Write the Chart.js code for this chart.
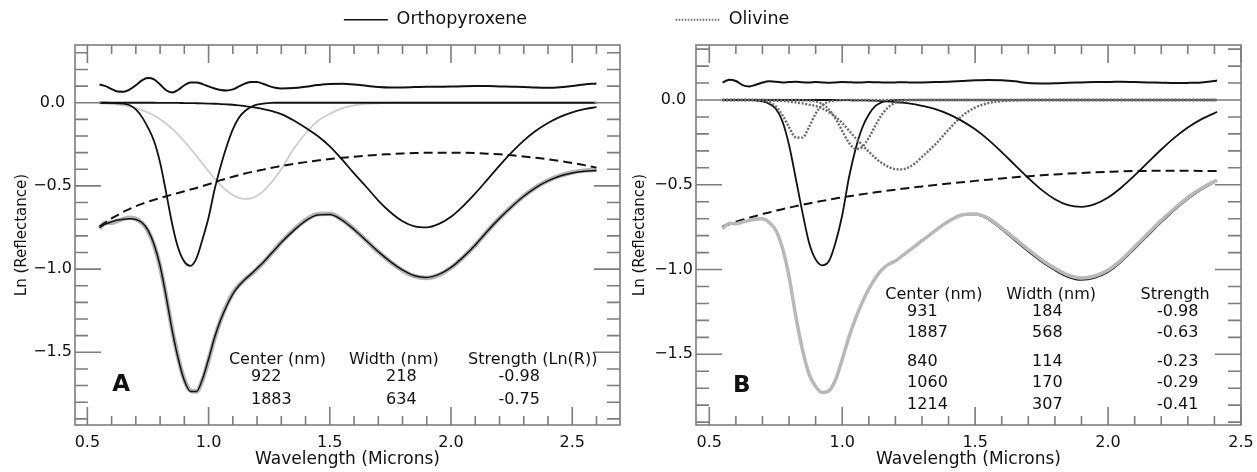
<!DOCTYPE html>
<html><head><meta charset="utf-8">
<script src="https://cdn.jsdelivr.net/npm/chart.js@4.4.1/dist/chart.umd.min.js"></script>
<style>
html,body{margin:0;padding:0;background:#fff;width:1257px;height:472px;overflow:hidden;}
canvas{position:absolute;top:0;}
#cA{left:0;} #cB{left:630px;} #lg1{left:330px;} #lg2{left:665px;}
</style></head><body>
<canvas id="cA" width="630" height="472"></canvas>
<canvas id="cB" width="627" height="472"></canvas>
<canvas id="lg1" width="211" height="60"></canvas>
<canvas id="lg2" width="135" height="60"></canvas>
<script>
// ---------- Panel A data (wavelength in microns, Ln reflectance) ----------
const xA = [0.55,0.575,0.6,0.625,0.65,0.675,0.7,0.725,0.75,0.775,0.8,0.825,0.85,0.875,0.9,0.925,0.95,0.975,1.0,1.025,1.05,1.075,1.1,1.125,1.15,1.175,1.2,1.225,1.25,1.275,1.3,1.35,1.4,1.45,1.5,1.55,1.6,1.65,1.7,1.75,1.8,1.85,1.9,1.95,2.0,2.05,2.1,2.15,2.2,2.25,2.3,2.35,2.4,2.45,2.5,2.55,2.6];
const residA = [0.110,0.100,0.082,0.067,0.066,0.080,0.105,0.135,0.148,0.140,0.110,0.075,0.062,0.078,0.105,0.122,0.122,0.112,0.098,0.086,0.077,0.074,0.080,0.098,0.115,0.125,0.124,0.114,0.100,0.090,0.086,0.088,0.096,0.106,0.113,0.114,0.110,0.102,0.094,0.091,0.092,0.094,0.096,0.096,0.097,0.099,0.100,0.100,0.098,0.096,0.094,0.091,0.090,0.093,0.100,0.110,0.116];
const opx1A = [0,0,-0.001,-0.003,-0.006,-0.015,-0.04,-0.085,-0.15,-0.23,-0.36,-0.54,-0.73,-0.875,-0.955,-0.98,-0.935,-0.82,-0.69,-0.52,-0.38,-0.26,-0.16,-0.09,-0.05,-0.026,-0.012,-0.005,-0.002,0,0,0,0,0,0,0,0,0,0,0,0,0,0,0,0,0,0,0,0,0,0,0,0,0,0,0,0];
const opx2A = [0,0,0,0,0,0,0,0,0,0,-0.001,-0.001,-0.001,-0.001,-0.002,-0.002,-0.003,-0.004,-0.005,-0.006,-0.008,-0.01,-0.012,-0.016,-0.02,-0.025,-0.031,-0.038,-0.046,-0.056,-0.068,-0.105,-0.15,-0.2,-0.262,-0.34,-0.425,-0.505,-0.588,-0.658,-0.712,-0.743,-0.749,-0.728,-0.685,-0.621,-0.545,-0.462,-0.378,-0.299,-0.228,-0.169,-0.122,-0.085,-0.058,-0.039,-0.026];
const thirdA = [-0.004,-0.005,-0.008,-0.011,-0.016,-0.023,-0.032,-0.044,-0.059,-0.077,-0.099,-0.126,-0.157,-0.193,-0.232,-0.275,-0.32,-0.366,-0.412,-0.456,-0.495,-0.529,-0.554,-0.572,-0.578,-0.575,-0.559,-0.533,-0.494,-0.449,-0.398,-0.28,-0.185,-0.11,-0.067,-0.034,-0.016,-0.007,-0.003,-0.001,0,0,0,0,0,0,0,0,0,0,0,0,0,0,0,0,0];
const contA = [-0.745,-0.72,-0.695,-0.675,-0.655,-0.638,-0.622,-0.608,-0.595,-0.584,-0.573,-0.562,-0.552,-0.542,-0.532,-0.522,-0.512,-0.501,-0.49,-0.478,-0.465,-0.455,-0.445,-0.435,-0.425,-0.417,-0.41,-0.402,-0.394,-0.387,-0.38,-0.368,-0.357,-0.347,-0.338,-0.331,-0.324,-0.318,-0.313,-0.309,-0.305,-0.302,-0.301,-0.3,-0.3,-0.301,-0.303,-0.306,-0.31,-0.316,-0.323,-0.331,-0.34,-0.35,-0.362,-0.375,-0.39];
const modelA = [-0.75,-0.73,-0.715,-0.705,-0.70,-0.698,-0.702,-0.72,-0.765,-0.85,-0.98,-1.165,-1.37,-1.54,-1.67,-1.735,-1.735,-1.66,-1.54,-1.41,-1.305,-1.22,-1.15,-1.1,-1.062,-1.03,-0.995,-0.96,-0.92,-0.88,-0.84,-0.77,-0.71,-0.675,-0.672,-0.705,-0.762,-0.828,-0.895,-0.955,-1.005,-1.04,-1.05,-1.032,-0.99,-0.928,-0.855,-0.772,-0.695,-0.625,-0.562,-0.51,-0.47,-0.44,-0.422,-0.412,-0.408];
const specA = [-0.755,-0.722,-0.722,-0.71,-0.698,-0.692,-0.698,-0.722,-0.77,-0.855,-0.985,-1.165,-1.365,-1.535,-1.665,-1.73,-1.735,-1.665,-1.545,-1.415,-1.305,-1.215,-1.145,-1.097,-1.062,-1.032,-0.998,-0.962,-0.921,-0.879,-0.838,-0.766,-0.705,-0.67,-0.668,-0.702,-0.76,-0.828,-0.896,-0.957,-1.008,-1.043,-1.053,-1.035,-0.992,-0.93,-0.856,-0.772,-0.694,-0.624,-0.561,-0.508,-0.468,-0.438,-0.419,-0.408,-0.403];

// ---------- Panel B data ----------
const xB = [0.55,0.575,0.6,0.625,0.65,0.675,0.7,0.725,0.75,0.775,0.8,0.825,0.85,0.875,0.9,0.925,0.95,0.975,1.0,1.025,1.05,1.075,1.1,1.125,1.15,1.175,1.2,1.225,1.25,1.275,1.3,1.35,1.4,1.45,1.5,1.55,1.6,1.65,1.7,1.75,1.8,1.85,1.9,1.95,2.0,2.05,2.1,2.15,2.2,2.25,2.3,2.35,2.4,2.41];
const residB = [0.103,0.12,0.112,0.088,0.08,0.09,0.103,0.11,0.108,0.104,0.106,0.108,0.105,0.104,0.106,0.104,0.102,0.104,0.106,0.105,0.103,0.104,0.106,0.105,0.104,0.103,0.104,0.105,0.104,0.103,0.104,0.106,0.108,0.112,0.116,0.118,0.116,0.11,0.1,0.098,0.099,0.102,0.104,0.106,0.106,0.108,0.106,0.104,0.102,0.1,0.101,0.104,0.112,0.115];
const opx1B = [0,0,0,0,-0.001,-0.002,-0.008,-0.022,-0.052,-0.125,-0.265,-0.46,-0.66,-0.84,-0.94,-0.975,-0.95,-0.84,-0.68,-0.46,-0.29,-0.165,-0.085,-0.035,-0.012,-0.004,-0.001,0,0,0,0,0,0,0,0,0,0,0,0,0,0,0,0,0,0,0,0,0,0,0,0,0,0,0];
const opx2B = [0,0,0,0,0,0,0,0,0,0,0,0,0,0,0,0,0,0,-0.001,-0.001,-0.002,-0.002,-0.003,-0.004,-0.006,-0.009,-0.012,-0.016,-0.02,-0.026,-0.034,-0.054,-0.083,-0.123,-0.173,-0.235,-0.307,-0.384,-0.46,-0.53,-0.585,-0.62,-0.63,-0.614,-0.575,-0.516,-0.445,-0.368,-0.292,-0.222,-0.162,-0.114,-0.077,-0.07];
const ol1B = [0,0,0,0,0,0,-0.003,-0.012,-0.038,-0.089,-0.16,-0.22,-0.222,-0.16,-0.08,-0.03,-0.01,-0.003,-0.001,0,0,0,0,0,0,0,0,0,0,0,0,0,0,0,0,0,0,0,0,0,0,0,0,0,0,0,0,0,0,0,0,0,0,0];
const ol2B = [0,0,0,0,0,0,0,0,0,0,0,0,-0.001,-0.003,-0.009,-0.024,-0.056,-0.111,-0.182,-0.251,-0.288,-0.277,-0.223,-0.15,-0.084,-0.04,-0.016,-0.005,-0.001,0,0,0,0,0,0,0,0,0,0,0,0,0,0,0,0,0,0,0,0,0,0,0,0,0];
const ol3B = [0,0,0,0,0,0,0,-0.002,-0.004,-0.006,-0.009,-0.014,-0.02,-0.027,-0.035,-0.05,-0.07,-0.1,-0.135,-0.18,-0.224,-0.265,-0.305,-0.342,-0.373,-0.395,-0.408,-0.409,-0.397,-0.372,-0.336,-0.262,-0.175,-0.095,-0.045,-0.018,-0.006,-0.002,0,0,0,0,0,0,0,0,0,0,0,0,0,0,0,0];
const contB = [-0.745,-0.731,-0.718,-0.706,-0.695,-0.684,-0.673,-0.663,-0.653,-0.644,-0.635,-0.626,-0.618,-0.61,-0.602,-0.595,-0.588,-0.581,-0.574,-0.568,-0.562,-0.556,-0.55,-0.544,-0.539,-0.534,-0.529,-0.524,-0.519,-0.514,-0.51,-0.501,-0.493,-0.485,-0.477,-0.47,-0.463,-0.456,-0.45,-0.444,-0.439,-0.434,-0.43,-0.427,-0.424,-0.421,-0.419,-0.418,-0.417,-0.417,-0.417,-0.418,-0.418,-0.418];
const modelB = [-0.752,-0.735,-0.722,-0.716,-0.712,-0.705,-0.703,-0.72,-0.765,-0.87,-1.04,-1.27,-1.47,-1.615,-1.69,-1.725,-1.715,-1.65,-1.53,-1.4,-1.29,-1.195,-1.115,-1.05,-1.0,-0.968,-0.95,-0.92,-0.89,-0.86,-0.83,-0.77,-0.715,-0.68,-0.675,-0.705,-0.765,-0.83,-0.895,-0.955,-1.005,-1.045,-1.062,-1.05,-1.015,-0.955,-0.878,-0.8,-0.722,-0.65,-0.585,-0.53,-0.485,-0.477];
const specB = [-0.758,-0.728,-0.73,-0.72,-0.71,-0.702,-0.7,-0.722,-0.768,-0.872,-1.042,-1.272,-1.47,-1.615,-1.69,-1.725,-1.715,-1.65,-1.53,-1.4,-1.29,-1.195,-1.115,-1.05,-1.0,-0.968,-0.95,-0.92,-0.89,-0.86,-0.83,-0.77,-0.715,-0.678,-0.672,-0.698,-0.755,-0.818,-0.882,-0.942,-0.993,-1.033,-1.05,-1.038,-1.003,-0.943,-0.866,-0.788,-0.71,-0.64,-0.575,-0.522,-0.48,-0.473];

// ---------- Band-parameter tables ----------
const headersA = ['Center (nm)', 'Width (nm)', 'Strength (Ln(R))'];
const centersA = ['922', '1883'];
const widthsA = ['218', '634'];
const strengthsA = ['-0.98', '-0.75'];
const headersB = ['Center (nm)', 'Width (nm)', 'Strength'];
const centersB = ['931', '1887', '840', '1060', '1214'];
const widthsB = ['184', '568', '114', '170', '307'];
const strengthsB = ['-0.98', '-0.63', '-0.23', '-0.29', '-0.41'];

// ---------- Ticks ----------
const xTicksA = [0.5,0.6,0.7,0.8,0.9,1.0,1.1,1.2,1.3,1.4,1.5,1.6,1.7,1.8,1.9,2.0,2.1,2.2,2.3,2.4,2.5,2.6];
const xTicksB = [0.5,0.6,0.7,0.8,0.9,1.0,1.1,1.2,1.3,1.4,1.5,1.6,1.7,1.8,1.9,2.0,2.1,2.2,2.3,2.4,2.5];
const yTicks = [-1.9,-1.8,-1.7,-1.6,-1.5,-1.4,-1.3,-1.2,-1.1,-1.0,-0.9,-0.8,-0.7,-0.6,-0.5,-0.4,-0.3,-0.2,-0.1,0,0.1,0.2,0.3];
const xMajor = [0.5, 1.0, 1.5, 2.0, 2.5];
const xMajorLabels = ['0.5', '1.0', '1.5', '2.0', '2.5'];
const yMajor = [0, -0.5, -1.0, -1.5];
const yMajorLabels = ['0.0', '\u22120.5', '\u22121.0', '\u22121.5'];

// ---------- layout (positions kept apart from data) ----------
const FONT = 'DejaVu Sans';
const tableA = {hx: [1.084, 1.579, 2.070], vx: [1.175, 1.732, 2.196], hy: -1.546, rows: [-1.647, -1.787], tag: 'A', tagPos: [0.639, -1.697]};
const tableB = {hx: [1.162, 1.617, 2.122], vx: [1.244, 1.714, 2.184], hy: -1.150, rows: [-1.249, -1.376, -1.544, -1.671, -1.799], tag: 'B', tagPos: [0.622, -1.687]};

Chart.defaults.font.family = FONT;

function pts(xs, ys) { return xs.map((x, i) => ({x: x, y: ys[i]})); }
function near(a, b) { return Math.abs(a - b) < 1e-6; }
function labelFor(v, majors, labels) { const i = majors.findIndex(m => near(m, v)); return i >= 0 ? labels[i] : ''; }
function isMajor(v) { return near(v * 2, Math.round(v * 2)); }

function line(label, xs, ys, style) {
  return Object.assign({label: label, data: pts(xs, ys), pointRadius: 0, pointHoverRadius: 0, fill: false,
    cubicInterpolationMode: 'monotone', borderColor: '#111', borderWidth: 1.8}, style);
}

const framePlugin = {
  id: 'mgmFrame',
  afterDatasetsDraw(chart) {
    const {ctx, chartArea: a, scales: {x, y}} = chart;
    ctx.save();
    ctx.strokeStyle = '#7d7d7d';
    ctx.lineWidth = 1.6;
    ctx.setLineDash([]);
    ctx.beginPath();
    x.ticks.forEach(t => {
      const px = x.getPixelForValue(t.value);
      const len = isMajor(t.value) ? 18 : 9;
      ctx.moveTo(px, a.bottom); ctx.lineTo(px, a.bottom - len);
      ctx.moveTo(px, a.top); ctx.lineTo(px, a.top + len);
    });
    y.ticks.forEach(t => {
      const py = y.getPixelForValue(t.value);
      const len = isMajor(t.value) ? 26 : 13;
      ctx.moveTo(a.left, py); ctx.lineTo(a.left + len, py);
      ctx.moveTo(a.right, py); ctx.lineTo(a.right - len, py);
    });
    ctx.stroke();
    ctx.strokeRect(a.left, a.top, a.right - a.left, a.bottom - a.top);
    ctx.restore();
  }
};

function tablePlugin(tbl, headers, centers, widths, strengths) {
  return {
    id: 'mgmTable',
    afterDraw(chart) {
      const {ctx, scales: {x, y}} = chart;
      ctx.save();
      ctx.fillStyle = '#111';
      ctx.textBaseline = 'middle';
      ctx.textAlign = 'left';
      ctx.font = '16px "' + FONT + '"';
      headers.forEach((h, i) => ctx.fillText(h, x.getPixelForValue(tbl.hx[i]), y.getPixelForValue(tbl.hy)));
      const cols = [centers, widths, strengths];
      tbl.rows.forEach((rv, r) => {
        cols.forEach((col, c) => ctx.fillText(col[r], x.getPixelForValue(tbl.vx[c]), y.getPixelForValue(rv)));
      });
      ctx.font = 'bold 23px "' + FONT + '"';
      ctx.textAlign = 'center';
      ctx.fillText(tbl.tag, x.getPixelForValue(tbl.tagPos[0]), y.getPixelForValue(tbl.tagPos[1]));
      ctx.restore();
    }
  };
}

function panelOptions(cfg) {
  return {
    responsive: false, animation: false, events: [],
    layout: {padding: {top: 45, right: cfg.padRight, left: 0, bottom: 0}},
    plugins: {legend: {display: false}, tooltip: {enabled: false}},
    scales: {
      x: {
        type: 'linear', min: cfg.xMin, max: cfg.xMax,
        afterBuildTicks: s => { s.ticks = cfg.xTicks.map(v => ({value: v})); },
        afterFit: s => { s.height = 47; s.paddingLeft = 0; s.paddingRight = 0; },
        grid: {display: false, drawTicks: false}, border: {display: false},
        ticks: {autoSkip: false, maxRotation: 0, minRotation: 0, padding: 8, color: '#111', font: {size: 16},
                callback: v => labelFor(v, xMajor, xMajorLabels)},
        title: {display: true, text: 'Wavelength (Microns)', color: '#111', font: {size: 17}, padding: {top: 0, bottom: 2}}
      },
      y: {
        type: 'linear', min: cfg.yMin, max: cfg.yMax,
        afterBuildTicks: s => { s.ticks = yTicks.map(v => ({value: v})); },
        afterFit: s => { s.width = cfg.yAxisWidth; s.paddingTop = 0; s.paddingBottom = 0; },
        grid: {display: false, drawTicks: false}, border: {display: false},
        ticks: {autoSkip: false, crossAlign: 'center', padding: 3, color: '#111', font: {size: 16},
                callback: v => labelFor(v, yMajor, yMajorLabels)},
        title: {display: true, text: 'Ln (Reflectance)', color: '#111', font: {size: 15}, padding: {top: cfg.yTitlePad, bottom: 0}}
      }
    }
  };
}

// Panel A
new Chart(document.getElementById('cA'), {
  type: 'line',
  data: {datasets: [
    line('Model', xA, modelA, {borderColor: '#111', borderWidth: 1.5}),
    line('Residual', xA, residA, {borderWidth: 2}),
    line('Orthopyroxene 922 nm', xA, opx1A, {}),
    line('Orthopyroxene 1883 nm', xA, opx2A, {}),
    line('Continuum', xA, contA, {borderWidth: 2, borderDash: [9, 5]}),
    line('Additional band', xA, thirdA, {borderColor: '#cdcdcd', borderWidth: 1.8}),
    line('Spectrum', xA, specA, {borderColor: '#b3b3b3', borderWidth: 4.5})
  ]},
  options: panelOptions({padRight: 10, xMin: 0.449, xMax: 2.697, xTicks: xTicksA, yMin: -1.937, yMax: 0.347, yAxisWidth: 75, yTitlePad: 13}),
  plugins: [framePlugin, tablePlugin(tableA, headersA, centersA, widthsA, strengthsA)]
});

// Panel B
new Chart(document.getElementById('cB'), {
  type: 'line',
  data: {datasets: [
    line('Spectrum', xB, specB, {borderColor: '#b8b8b8', borderWidth: 3.5}),
    line('Model', xB, modelB, {borderColor: '#222', borderWidth: 1.5}),
    line('Residual', xB, residB, {borderWidth: 2}),
    line('Olivine 840 nm', xB, ol1B, {borderColor: '#6a6a6a', borderWidth: 2.4, borderDash: [2, 1.6]}),
    line('Olivine 1060 nm', xB, ol2B, {borderColor: '#6a6a6a', borderWidth: 2.4, borderDash: [2, 1.6]}),
    line('Olivine 1214 nm', xB, ol3B, {borderColor: '#6a6a6a', borderWidth: 2.4, borderDash: [2, 1.6]}),
    line('Orthopyroxene 931 nm', xB, opx1B, {}),
    line('Orthopyroxene 1887 nm', xB, opx2B, {}),
    line('Continuum', xB, contB, {borderWidth: 2, borderDash: [9, 5]})
  ]},
  options: panelOptions({padRight: 16, xMin: 0.45, xMax: 2.5, xTicks: xTicksB, yMin: -1.917, yMax: 0.3245, yAxisWidth: 66, yTitlePad: 1}),
  plugins: [framePlugin, tablePlugin(tableB, headersB, centersB, widthsB, strengthsB)]
});

// Legend (line samples drawn as zero-height boxes; the olivine sample length is chosen
// so that the return stroke of the closed path lands on the same dots: 2w = 1.5 mod 3)
function legendChart(id, label, style, boxW) {
  new Chart(document.getElementById(id), {
    type: 'line',
    data: {datasets: [Object.assign({label: label, data: [], backgroundColor: 'rgba(0,0,0,0)'}, style)]},
    options: {
      responsive: false, animation: false, events: [],
      layout: {padding: 0},
      scales: {x: {display: false}, y: {display: false}},
      plugins: {tooltip: {enabled: false}, legend: {display: true, position: 'top', align: 'center',
        labels: {usePointStyle: false, boxWidth: boxW, boxHeight: 0, padding: 11, color: '#111', font: {size: 17.5}}}}
    }
  });
}
legendChart('lg1', 'Orthopyroxene', {borderColor: '#111', borderWidth: 1.6}, 44);
legendChart('lg2', 'Olivine', {borderColor: '#6a6a6a', borderWidth: 2, borderDash: [1.5, 1.5]}, 44.25);
</script></body></html>
